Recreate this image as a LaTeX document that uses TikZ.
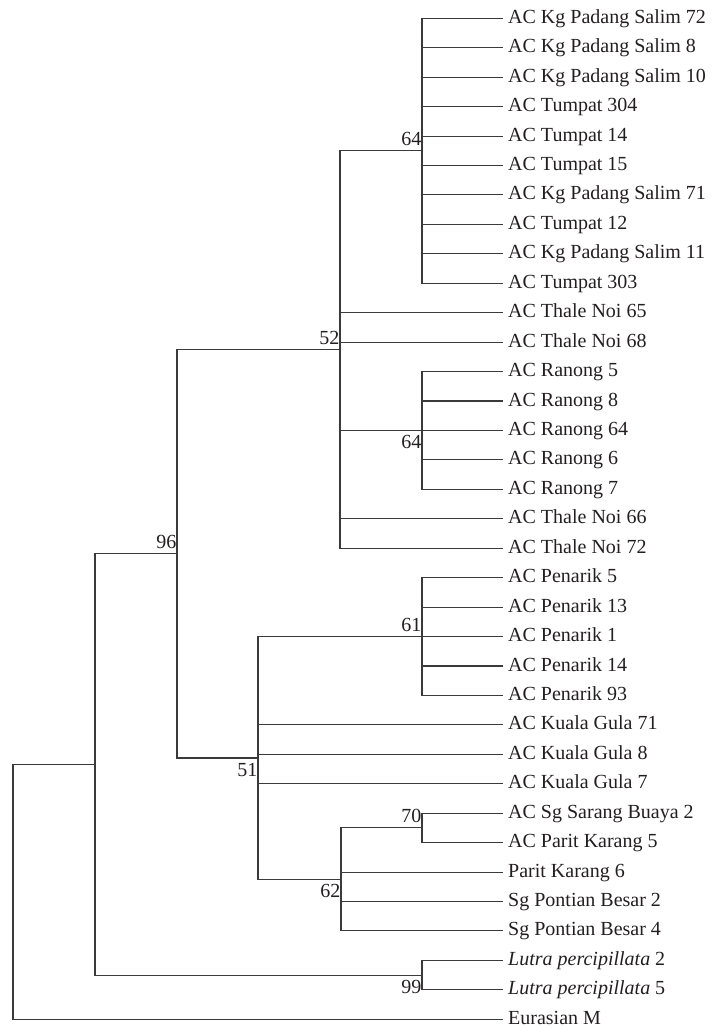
\documentclass[tikz,border=0pt]{standalone}
\usepackage{fontspec}
\setmainfont{Liberation Serif}
\usepackage{tikz}
\usetikzlibrary{positioning}
\definecolor{inkc}{HTML}{231F20}
\definecolor{branchc}{HTML}{3A3A3A}

\begin{document}
\begin{tikzpicture}[x=1pt, y=-1pt,
  every node/.style={font=\fontsize{20}{24}\selectfont, text=inkc},
  leaf/.style={anchor=west, inner xsep=5pt, inner ysep=0pt, text height=10pt, text depth=0pt},
  boot above/.style={anchor=south east, inner xsep=0.5pt, inner ysep=5pt, text depth=0pt},
  boot below/.style={anchor=north east, inner xsep=0.5pt, inner ysep=4.5pt, text height=13.5pt, text depth=0pt},
  branch/.style={draw=branchc, line width=1.1pt}]
\useasboundingbox (0,0) rectangle (712,1026);
% leaves
\node[leaf] (kps72) at (503,18.3) {AC Kg Padang Salim 72};
\node[leaf] (kps8) at (503,47.7) {AC Kg Padang Salim 8};
\node[leaf] (kps10) at (503,77.2) {AC Kg Padang Salim 10};
\node[leaf] (tum304) at (503,106.6) {AC Tumpat 304};
\node[leaf] (tum14) at (503,136.1) {AC Tumpat 14};
\node[leaf] (tum15) at (503,165.5) {AC Tumpat 15};
\node[leaf] (kps71) at (503,194.9) {AC Kg Padang Salim 71};
\node[leaf] (tum12) at (503,224.4) {AC Tumpat 12};
\node[leaf] (kps11) at (503,253.8) {AC Kg Padang Salim 11};
\node[leaf] (tum303) at (503,283.3) {AC Tumpat 303};
\node[leaf] (tn65) at (503,312.7) {AC Thale Noi 65};
\node[leaf] (tn68) at (503,342.1) {AC Thale Noi 68};
\node[leaf] (ran5) at (503,371.6) {AC Ranong 5};
\node[leaf] (ran8) at (503,401.0) {AC Ranong 8};
\node[leaf] (ran64) at (503,430.5) {AC Ranong 64};
\node[leaf] (ran6) at (503,459.9) {AC Ranong 6};
\node[leaf] (ran7) at (503,489.3) {AC Ranong 7};
\node[leaf] (tn66) at (503,518.8) {AC Thale Noi 66};
\node[leaf] (tn72) at (503,548.2) {AC Thale Noi 72};
\node[leaf] (pen5) at (503,577.7) {AC Penarik 5};
\node[leaf] (pen13) at (503,607.1) {AC Penarik 13};
\node[leaf] (pen1) at (503,636.5) {AC Penarik 1};
\node[leaf] (pen14) at (503,666.0) {AC Penarik 14};
\node[leaf] (pen93) at (503,695.4) {AC Penarik 93};
\node[leaf] (kg71) at (503,724.9) {AC Kuala Gula 71};
\node[leaf] (kg8) at (503,754.3) {AC Kuala Gula 8};
\node[leaf] (kg7) at (503,783.7) {AC Kuala Gula 7};
\node[leaf] (ssb2) at (503,813.2) {AC Sg Sarang Buaya 2};
\node[leaf] (pk5) at (503,842.6) {AC Parit Karang 5};
\node[leaf] (pk6) at (503,872.1) {Parit Karang 6};
\node[leaf] (spb2) at (503,901.5) {Sg Pontian Besar 2};
\node[leaf] (spb4) at (503,930.9) {Sg Pontian Besar 4};
\node[leaf] (lp2) at (503,960.4) {\textit{Lutra percipillata} 2};
\node[leaf] (lp5) at (503,989.8) {\textit{Lutra percipillata} 5};
\node[leaf] (eum) at (503,1019.3) {Eurasian M};
% internal nodes
\coordinate (n64a) at (422,150.8);
\coordinate (n64b) at (422,430.5);
\coordinate (n52) at (340,349.5);
\coordinate (n61) at (422,636.5);
\coordinate (n70) at (422,827.9);
\coordinate (n62) at (341,879.4);
\coordinate (n51) at (258,758.0);
\coordinate (n96) at (177,553.8);
\coordinate (n99) at (422,975.1);
\coordinate (n95) at (95,764.5);
\coordinate (root) at (13,891.9);
% bootstrap values
\node[boot above] (b64a) at (n64a) {64};
\node[boot below] (b64b) at (n64b) {64};
\node[boot above] (b52) at (n52) {52};
\node[boot above] (b61) at (n61) {61};
\node[boot above] (b70) at (n70) {70};
\node[boot below] (b62) at (n62) {62};
\node[boot below] (b51) at (n51) {51};
\node[boot above] (b96) at (n96) {96};
\node[boot below] (b99) at (n99) {99};
% branches
\draw[branch] (n64a) |- (kps72.west); \draw[branch] (n64a) |- (kps8.west);
\draw[branch] (n64a) |- (kps10.west); \draw[branch] (n64a) |- (tum304.west);
\draw[branch] (n64a) |- (tum14.west); \draw[branch] (n64a) |- (tum15.west);
\draw[branch] (n64a) |- (kps71.west); \draw[branch] (n64a) |- (tum12.west);
\draw[branch] (n64a) |- (kps11.west); \draw[branch] (n64a) |- (tum303.west);
\draw[branch] (n64b) |- (ran5.west); \draw[branch] (n64b) |- (ran8.west);
\draw[branch] (n64b) |- (ran64.west); \draw[branch] (n64b) |- (ran6.west);
\draw[branch] (n64b) |- (ran7.west);
\draw[branch] (n52) |- (n64a); \draw[branch] (n52) |- (tn65.west);
\draw[branch] (n52) |- (tn68.west); \draw[branch] (n52) |- (n64b);
\draw[branch] (n52) |- (tn66.west); \draw[branch] (n52) |- (tn72.west);
\draw[branch] (n61) |- (pen5.west); \draw[branch] (n61) |- (pen13.west);
\draw[branch] (n61) |- (pen1.west); \draw[branch] (n61) |- (pen14.west);
\draw[branch] (n61) |- (pen93.west);
\draw[branch] (n70) |- (ssb2.west); \draw[branch] (n70) |- (pk5.west);
\draw[branch] (n62) |- (n70); \draw[branch] (n62) |- (pk6.west);
\draw[branch] (n62) |- (spb2.west); \draw[branch] (n62) |- (spb4.west);
\draw[branch] (n51) |- (n61); \draw[branch] (n51) |- (kg71.west);
\draw[branch] (n51) |- (kg8.west); \draw[branch] (n51) |- (kg7.west);
\draw[branch] (n51) |- (n62);
\draw[branch] (n96) |- (n52); \draw[branch] (n96) |- (n51);
\draw[branch] (n99) |- (lp2.west); \draw[branch] (n99) |- (lp5.west);
\draw[branch] (n95) |- (n96); \draw[branch] (n95) |- (n99);
\draw[branch] (root) |- (n95); \draw[branch] (root) |- (eum.west);
\end{tikzpicture}
\end{document}
